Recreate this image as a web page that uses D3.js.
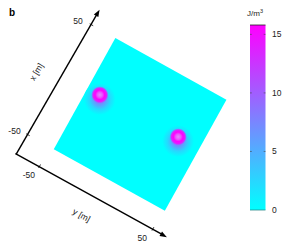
<!DOCTYPE html>
<html><head><meta charset="utf-8">
<script src="https://cdn.jsdelivr.net/npm/d3@7"></script>
<style>body{margin:0;background:#fff}svg{display:block;font-family:"Liberation Sans",Arial,sans-serif}</style>
</head><body><svg id="c" width="307" height="245"></svg>
<script>
// ---- data ----
const xTicks = [-50, 50];          // x [m]
const yTicks = [-50, 50];          // y [m]
const cbTicks = [0, 5, 10, 15];    // J/m^3
const cbMax = 15.8;
const sourceX = [5, 6];            // source positions, x [m]
const sourceY = [-39, 31];         // source positions, y [m]
const ringOffsets = [0, 0.3, 0.55, 0.8, 1];
const ringValues  = [13, 14, 15.8, 15, 12];
const ringLight   = [0.42, 0.25, 0, 0, 0];
const ringOpacity = [1, 1, 1, 0.85, 0];
const haloOffsets = [0, 0.3, 0.65, 1];
const haloValues  = [11, 7, 2.5, 0];

// ---- layout ----
const svg = d3.select("#c");
const cx = 140.1, cy = 124.4, rot = 29, half = 63.5;
const color = d3.scaleLinear().domain([0, cbMax]).range(["#00ffff", "#ff00ff"]).interpolate(d3.interpolateRgb);

const xs = d3.scaleLinear().domain([-50, 50]).range([half, -half]);
const ys = d3.scaleLinear().domain([-50, 50]).range([-half, half]);
const defs = svg.append("defs");

const plane = svg.append("g").attr("transform", `translate(${cx},${cy}) rotate(${rot})`);
plane.append("rect")
  .attr("x", ys(-50)).attr("y", xs(50))
  .attr("width", ys(50) - ys(-50)).attr("height", xs(-50) - xs(50))
  .attr("fill", color(0));

const hg = defs.append("radialGradient").attr("id", "halo");
hg.selectAll("stop").data(haloOffsets).join("stop")
  .attr("offset", d => d).attr("stop-color", (d, i) => color(haloValues[i]));
const rg = defs.append("radialGradient").attr("id", "ring");
rg.selectAll("stop").data(ringOffsets).join("stop")
  .attr("offset", d => d)
  .attr("stop-color", (d, i) => d3.interpolateRgb(color(ringValues[i]), "#ffffff")(ringLight[i]))
  .attr("stop-opacity", (d, i) => ringOpacity[i]);

const haloR = 12.5, ringR = 6.8, haloDx = -3, haloDy = 1.5;
sourceX.forEach((sx, i) => {
  plane.append("circle")
    .attr("cx", ys(sourceY[i] + haloDy)).attr("cy", xs(sx + haloDx))
    .attr("r", ys(haloR) - ys(0)).attr("fill", "url(#halo)");
});
sourceX.forEach((sx, i) => {
  plane.append("circle")
    .attr("cx", ys(sourceY[i])).attr("cy", xs(sx))
    .attr("r", ys(ringR) - ys(0)).attr("fill", "url(#ring)");
});

// ---- axes (screen projected) ----
const xAxisS = d3.scaleLinear().domain([-50, 50]).range([[27.5, 134.5], [91, 24.5]]);
const yAxisS = d3.scaleLinear().domain([-50, 50]).range([[39.3, 166.7], [152.7, 229.3]]);
const xAxis = v => Array.from(xAxisS(v));
const yAxis = v => Array.from(yAxisS(v));
const xExt = [-68, 63.5], yExt = [-71, 62.5];

function arrowAxis(sc, ext) {
  const p0 = sc(ext[0]), p1 = sc(ext[1]);
  const dx = p1[0] - p0[0], dy = p1[1] - p0[1], L = Math.hypot(dx, dy);
  const ux = dx / L, uy = dy / L, hl = 7, hw = 2.6;
  const base = [p1[0] - ux * hl, p1[1] - uy * hl];
  svg.append("line").attr("x1", p0[0]).attr("y1", p0[1]).attr("x2", base[0] + ux * 1).attr("y2", base[1] + uy * 1)
    .attr("stroke", "#000").attr("stroke-width", 1.4);
  svg.append("path").attr("d", `M${p1[0]},${p1[1]}L${base[0] - uy * hw},${base[1] + ux * hw}L${base[0] + uy * hw},${base[1] - ux * hw}Z`)
    .attr("fill", "#000");
}
arrowAxis(xAxis, xExt);
arrowAxis(yAxis, yExt);

function ticks(sc, vals, dir, lab) {
  vals.forEach(v => {
    const p = sc(v);
    svg.append("line").attr("x1", p[0] - dir[0] * 1.5).attr("y1", p[1] - dir[1] * 1.5)
      .attr("x2", p[0] + dir[0] * 2.5).attr("y2", p[1] + dir[1] * 2.5)
      .attr("stroke", "#000").attr("stroke-width", 0.8);
    svg.append("text").attr("x", p[0] + lab[0]).attr("y", p[1] + lab[1])
      .attr("text-anchor", "middle").attr("dominant-baseline", "central")
      .attr("font-size", 8.5).attr("fill", "#222").text(v);
  });
}
ticks(xAxis, xTicks, [0.875, 0.485], [-13, -3.5]);
ticks(yAxis, yTicks, [0.485, -0.875], [-10.5, 8.5]);

const xm = xAxis(-3), ym = yAxis(-3);
svg.append("text").attr("transform", `translate(${xm[0] - 21},${xm[1] - 11}) rotate(-59)`)
  .attr("text-anchor", "middle").attr("dominant-baseline", "central")
  .attr("font-size", 8.5).attr("fill", "#222").text("x [m]");
svg.append("text").attr("transform", `translate(${ym[0] - 11},${ym[1] + 19}) rotate(29)`)
  .attr("text-anchor", "middle").attr("dominant-baseline", "central")
  .attr("font-size", 8.5).attr("fill", "#222").text("y [m]");

svg.append("text").attr("x", 9).attr("y", 16).attr("font-size", 10).attr("font-weight", "bold").text("b");

// ---- colorbar ----
const cbX = 250, cbW = 15.5;
const cb = d3.scaleLinear().domain([0, cbMax]).range([210, 25]);
const lg = defs.append("linearGradient").attr("id", "cbg").attr("x1", 0).attr("y1", 1).attr("x2", 0).attr("y2", 0);
lg.selectAll("stop").data([0, cbMax]).join("stop")
  .attr("offset", d => d / cbMax).attr("stop-color", d => color(d));
svg.append("rect").attr("x", cbX).attr("y", cb(cbMax)).attr("width", cbW).attr("height", cb(0) - cb(cbMax))
  .attr("fill", "url(#cbg)");
svg.append("line").attr("x1", cbX).attr("x2", cbX + cbW).attr("y1", cb(cbMax)).attr("y2", cb(cbMax))
  .attr("stroke", "#222").attr("stroke-width", 0.8);
svg.append("line").attr("x1", cbX).attr("x2", cbX + cbW).attr("y1", cb(0)).attr("y2", cb(0))
  .attr("stroke", "#2a8c8c").attr("stroke-width", 0.8);
cbTicks.forEach(t => {
  const y = cb(t);
  if (t > 0) {
    svg.append("line").attr("x1", cbX).attr("x2", cbX + 1.8).attr("y1", y).attr("y2", y).attr("stroke", "#444").attr("stroke-width", 0.6);
    svg.append("line").attr("x1", cbX + cbW - 1.8).attr("x2", cbX + cbW).attr("y1", y).attr("y2", y).attr("stroke", "#444").attr("stroke-width", 0.6);
  }
  svg.append("text").attr("x", cbX + 22).attr("y", y).attr("dominant-baseline", "central")
    .attr("font-size", 8.5).attr("fill", "#222").text(t);
});
const cbt = svg.append("text").attr("x", cbX + 5).attr("y", 16).attr("text-anchor", "middle")
  .attr("font-size", 8).attr("fill", "#222");
cbt.append("tspan").text("J/m");
cbt.append("tspan").attr("font-size", 5.5).attr("dy", -3).text("3");
</script></body></html>
